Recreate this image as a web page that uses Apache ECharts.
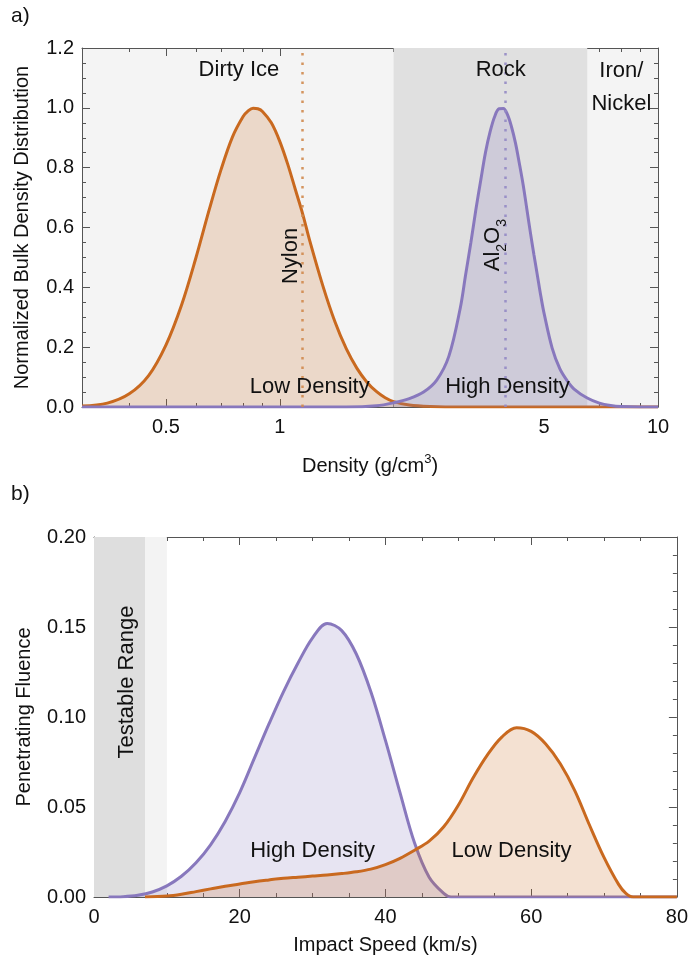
<!DOCTYPE html>
<html><head><meta charset="utf-8">
<script src="https://cdn.jsdelivr.net/npm/echarts@6/dist/echarts.min.js"></script>
<style>html,body{margin:0;padding:0;background:#fff}#c{width:691px;height:967px}</style>
</head><body><div id="c"></div><script>
// ---------- data ----------
const densityLowX = [0.3,0.35,0.4,0.45,0.5,0.55,0.6,0.65,0.7,0.75,0.8,0.825,0.85,0.875,0.9,0.95,1.0,1.05,1.1,1.15,1.2,1.3,1.4,1.5,1.6,1.7,1.8,1.9,2.0,2.2,2.5,3,4,5,7,10];
const densityLowY = [0.003,0.013,0.044,0.105,0.207,0.341,0.498,0.657,0.795,0.903,0.971,0.990,0.999,0.997,0.988,0.950,0.888,0.811,0.726,0.645,0.556,0.405,0.284,0.194,0.129,0.083,0.052,0.031,0.018,0.007,0.002,0,0,0,0,0];
const densityHighX = [0.3,0.5,1,1.5,1.8,2.0,2.2,2.4,2.6,2.8,3.0,3.1,3.2,3.3,3.4,3.5,3.6,3.7,3.8,3.9,4.0,4.1,4.2,4.3,4.4,4.5,4.6,4.7,4.8,4.9,5.0,5.25,5.5,5.75,6.0,6.5,7.0,7.5,8,9,10];
const densityHighY = [0,0,0,0,0.004,0.014,0.028,0.05,0.09,0.17,0.33,0.442,0.549,0.660,0.759,0.852,0.921,0.971,0.997,0.998,0.977,0.936,0.882,0.814,0.743,0.662,0.582,0.508,0.439,0.371,0.312,0.197,0.128,0.088,0.060,0.030,0.013,0.005,0.0015,0,0];
const speedHighX = [2,4,6,8,10,12,14,16,18,20,22,24,26,28,30,32,34,36,38,40,42,44,46,48,49,50,60,70,80];
const speedHighY = [0,0.0002,0.001,0.0028,0.0062,0.0115,0.019,0.029,0.042,0.058,0.077,0.096,0.114,0.130,0.144,0.152,0.148,0.135,0.114,0.087,0.058,0.030,0.011,0.002,0,0,0,0,0];
const speedLowX = [7,10,12,14,16,18,20,22,24,26,28,30,32,34,36,38,40,42,44,46,48,50,52,54,56,58,60,62,64,66,68,70,72,73,74,80];
const speedLowY = [0,0.0005,0.0015,0.003,0.0045,0.006,0.0072,0.0085,0.0095,0.0104,0.011,0.0116,0.0122,0.013,0.014,0.0155,0.018,0.0215,0.026,0.031,0.039,0.051,0.066,0.079,0.089,0.094,0.092,0.085,0.074,0.059,0.040,0.022,0.007,0.002,0,0];
const densityMajorTicks = [0.5,1,5,10];
const densityMinorTicks = [0.3,0.4,0.6,0.7,0.8,0.9,2,3,4,6,7,8,9];
const rockBand = [2,6.5];
const nylonDensity = 1.15;
const aluminaDensity = 3.95;
const testableDark = [0,7];
const testableLight = [7,10];

// ---------- styles ----------
const FONT = 'Liberation Sans, Arial, Helvetica, sans-serif';
const TXT = '#111111';
const FRAME = '#555555';
const ORANGE = '#c9691f';
const PURPLE = '#8878bd';
const zip = (xs, ys) => xs.map((x, i) => [x, ys[i]]);
const fmtNum = v => String(parseFloat(Number(v).toPrecision(6)));
const lbl = {fontSize: 20, fontFamily: FONT, color: TXT};

function logX(pos, ticks, len, line, labels, extra) {
  return Object.assign({
    gridIndex: 0, type: 'log', logBase: 10, min: 0.3, max: 10, position: pos,
    axisLine: {show: line, onZero: false, lineStyle: {color: FRAME, width: 1}},
    axisTick: {show: true, inside: true, length: len, customValues: ticks, lineStyle: {color: FRAME}},
    axisLabel: labels ? Object.assign({show: true, customValues: ticks, formatter: fmtNum, margin: 10}, lbl) : {show: false},
    splitLine: {show: false}
  }, extra || {});
}
function linX(pos, labels, extra) {
  return Object.assign({
    gridIndex: 1, type: 'value', min: 0, max: 80, interval: 20, position: pos,
    axisLine: {show: true, onZero: false, lineStyle: {color: FRAME, width: 1}},
    axisTick: {show: true, inside: true, length: 8, lineStyle: {color: FRAME}},
    minorTick: {show: true, splitNumber: 4, length: 4, lineStyle: {color: FRAME}},
    axisLabel: labels ? Object.assign({show: true, margin: 10}, lbl) : {show: false},
    splitLine: {show: false}, minorSplitLine: {show: false}
  }, extra || {});
}
function linY(grid, pos, max, interval, split, digits, labels, extra) {
  return Object.assign({
    gridIndex: grid, type: 'value', min: 0, max: max, interval: interval, position: pos,
    axisLine: {show: true, onZero: false, lineStyle: {color: FRAME, width: 1}},
    axisTick: {show: true, inside: true, length: 8, lineStyle: {color: FRAME}},
    minorTick: {show: true, splitNumber: split, length: 4, lineStyle: {color: FRAME}},
    axisLabel: labels ? Object.assign({show: true, margin: 8, formatter: v => v.toFixed(digits)}, lbl) : {show: false},
    splitLine: {show: false}, minorSplitLine: {show: false}
  }, extra || {});
}
function band(xi, yi, ranges, x0) {
  return {
    type: 'line', xAxisIndex: xi, yAxisIndex: yi, z: 1, silent: true,
    data: [[x0, 0]], showSymbol: false, lineStyle: {width: 0, opacity: 0},
    markArea: {silent: true, data: ranges.map(r => [{xAxis: r[0][0], itemStyle: {color: r[1]}}, {xAxis: r[0][1]}])}
  };
}
function curve(xi, yi, data, color, z, extra) {
  return Object.assign({
    type: 'line', xAxisIndex: xi, yAxisIndex: yi, data: data, z: z, smooth: 0.35,
    showSymbol: false, silent: true,
    lineStyle: {color: color, width: 3},
    itemStyle: {color: color},
    areaStyle: {color: color, opacity: 0.2}
  }, extra || {});
}
function vline(x, color) {
  return {silent: true, symbol: ['none', 'none'], label: {show: false},
    lineStyle: {color: color, width: 2.5, type: [2.5, 7], opacity: 0.9}, data: [{xAxis: x}]};
}
function texts(xi, yi, items) {
  return {
    type: 'scatter', xAxisIndex: xi, yAxisIndex: yi, z: 10, silent: true,
    symbolSize: 1, itemStyle: {color: 'rgba(0,0,0,0)', opacity: 1},
    data: items.map(t => ({value: t.at, label: {show: true, position: 'inside', formatter: t.text, rotate: t.rotate || 0,
      fontSize: 22, fontFamily: FONT, color: TXT, opacity: 1, textBorderWidth: 0, lineHeight: 33,
      rich: {sub: {fontSize: 14, fontFamily: FONT, color: TXT, verticalAlign: 'bottom', lineHeight: 10}}}}))
  };
}

const chart = echarts.init(document.getElementById('c'), null, {renderer: 'canvas'});
chart.setOption({
  animation: false,
  backgroundColor: '#ffffff',
  graphic: [
    {type: 'text', left: 11, top: 6, style: {text: 'a)', fontSize: 21, fontFamily: FONT, fill: TXT}},
    {type: 'text', left: 11, top: 484, style: {text: 'b)', fontSize: 21, fontFamily: FONT, fill: TXT}}
  ],
  grid: [
    {left: 82, top: 48, width: 576, height: 359, show: true, backgroundColor: '#f4f4f4', borderWidth: 0},
    {left: 94, top: 537, width: 584, height: 360, show: true, backgroundColor: '#ffffff', borderWidth: 0}
  ],
  xAxis: [
    logX('bottom', densityMajorTicks, 8, true, true, {
      name: 'Density (g/cm{sup|3})', nameLocation: 'middle', nameGap: 46,
      nameTextStyle: {fontSize: 20, fontFamily: FONT, color: TXT, lineHeight: 26,
        rich: {sup: {fontSize: 13, fontFamily: FONT, color: TXT, verticalAlign: 'top', lineHeight: 14}}}
    }),
    logX('bottom', densityMinorTicks, 4, false, false),
    logX('top', densityMajorTicks, 8, true, false),
    logX('top', densityMinorTicks, 4, false, false),
    linX('bottom', true, {name: 'Impact Speed (km/s)', nameLocation: 'middle', nameGap: 38,
      nameTextStyle: {fontSize: 20, fontFamily: FONT, color: TXT}}),
    linX('top', false)
  ],
  yAxis: [
    linY(0, 'left', 1.2, 0.2, 4, 1, true, {name: 'Normalized Bulk Density Distribution', nameLocation: 'middle', nameGap: 50,
      nameTextStyle: {fontSize: 20, fontFamily: FONT, color: TXT}}),
    linY(0, 'right', 1.2, 0.2, 4, 1, false),
    linY(1, 'left', 0.2, 0.05, 5, 2, true, {name: 'Penetrating Fluence', nameLocation: 'middle', nameGap: 60,
      nameTextStyle: {fontSize: 20, fontFamily: FONT, color: TXT}}),
    linY(1, 'right', 0.2, 0.05, 5, 2, false)
  ],
  series: [
    band(0, 0, [[rockBand, '#e0e0e0']], 1),
    curve(0, 0, zip(densityLowX, densityLowY), ORANGE, 3, {markLine: vline(nylonDensity, '#d08a4e')}),
    curve(0, 0, zip(densityHighX, densityHighY), PURPLE, 4, {markLine: vline(aluminaDensity, '#9489c4')}),
    texts(0, 0, [
      {text: 'Dirty Ice', at: [0.78, 1.126]},
      {text: 'Rock', at: [3.84, 1.126]},
      {text: 'Iron/\nNickel', at: [8.0, 1.068]},
      {text: 'Nylon', at: [1.069, 0.505], rotate: 90},
      {text: 'Al{sub|2}O{sub|3}', at: [3.65, 0.541], rotate: 90},
      {text: 'Low Density', at: [1.2, 0.067]},
      {text: 'High Density', at: [4.0, 0.067]}
    ]),
    band(4, 2, [[testableDark, '#dedede'], [testableLight, '#f3f3f3']], 1),
    curve(4, 2, zip(speedHighX, speedHighY), PURPLE, 3),
    curve(4, 2, zip(speedLowX, speedLowY), ORANGE, 4),
    texts(4, 2, [
      {text: 'Testable Range', at: [4.5, 0.1194], rotate: 90},
      {text: 'High Density', at: [30, 0.0256]},
      {text: 'Low Density', at: [57.3, 0.0256]}
    ])
  ]
});
</script></body></html>
